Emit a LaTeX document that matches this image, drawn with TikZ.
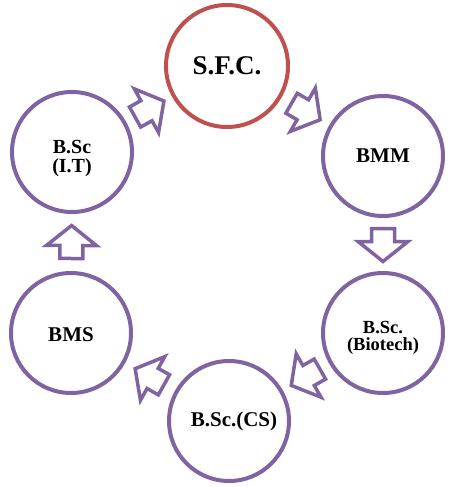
\documentclass[tikz,border=0pt]{standalone}
\usepackage{fontspec}
\setmainfont{Liberation Serif}
\usepackage{xcolor}
\definecolor{coursepurple}{HTML}{8064A2}
\definecolor{collegered}{HTML}{C0504D}
\tikzset{
    coursenode/.style={
        circle,
        draw=coursepurple,
        line width=4pt,
        fill=white,
        minimum size=120pt,
        inner sep=0pt,
        align=center,
        font=\fontsize{21}{19}\selectfont\bfseries
    },
    collegenode/.style={
        coursenode,
        draw=collegered,
        minimum size=122pt,
        font=\fontsize{27}{28}\selectfont\bfseries
    },
    labeltext/.style={
        align=center,
        inner sep=0pt,
        font=\fontsize{18.5}{17.5}\selectfont\bfseries
    },
    flowarrow/.pic={
        \draw[coursepurple, line width=3.5pt, fill=white, miter limit=10]
            (-16,-11.5) -- (-3,-11.5) -- (-3,-25) -- (17,0) -- (-3,25)
            -- (-3,11.5) -- (-16,11.5) -- cycle;
    }
}

\begin{document}
\begin{tikzpicture}[x=1pt, y=-1pt]
\useasboundingbox (0,0) rectangle (450,487);

% Courses
\node[collegenode] (sfc) at (227,66) {S.F.C.};
\node[coursenode] (bmm) at (383,156) {BMM};
\node[coursenode, label={[labeltext, yshift=-5pt]center:B.Sc.\\(Biotech)}] (biotech) at (383,333) {};
\node[coursenode, label={[labeltext, xshift=5pt, font=\fontsize{21}{19}\selectfont\bfseries]center:B.Sc.(CS)}] (bsccs) at (229,421) {};
\node[coursenode, label={[labeltext, yshift=-2pt, font=\fontsize{21}{19}\selectfont\bfseries]center:BMS}] (bms) at (71,333) {};
\node[coursenode, label={[labeltext, yshift=-7pt, font=\fontsize{20}{19}\selectfont\bfseries]center:B.Sc\\(I.T)}] (bscit) at (72,152) {};

% Cycle arrows
\path (sfc) -- pic[pos=0.5, sloped, allow upside down] {flowarrow} (bmm);
\path (bmm) -- pic[pos=0.5, sloped, allow upside down] {flowarrow} (biotech);
\path (biotech) -- pic[pos=0.5, sloped, allow upside down] {flowarrow} (bsccs);
\path (bsccs) -- pic[pos=0.5, sloped, allow upside down] {flowarrow} (bms);
\path (bms) -- pic[pos=0.5, sloped, allow upside down] {flowarrow} (bscit);
\path (bscit) -- pic[pos=0.5, sloped, allow upside down] {flowarrow} (sfc);

\end{tikzpicture}
\end{document}
